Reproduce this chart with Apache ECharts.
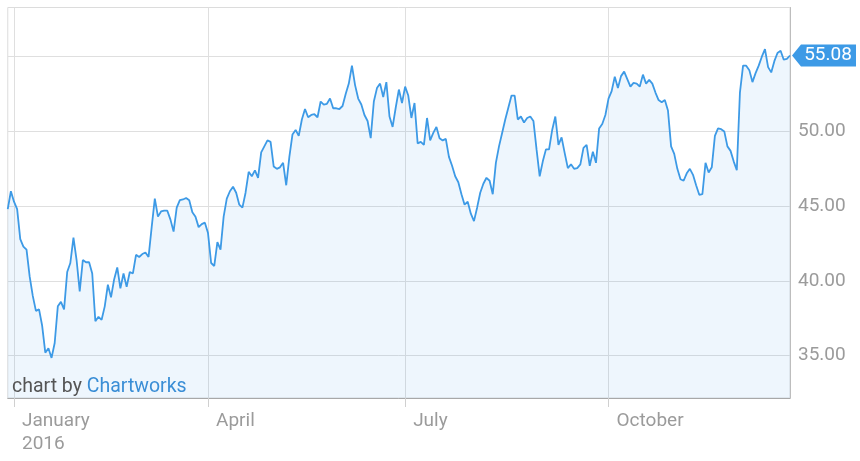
<!DOCTYPE html>
<html><head><meta charset="utf-8">
<script src="https://cdn.jsdelivr.net/npm/echarts@6/dist/echarts.min.js"></script>
<style>html,body{margin:0;padding:0;background:#fff}#c{width:860px;height:461px}</style>
</head><body><div id="c"></div>
<script>
// ---- data ----
const startDate = '2015-12-30';
const endDate = '2016-12-22';
const holidays = ['2016-01-01','2016-03-25','2016-03-28','2016-05-02','2016-05-30','2016-08-29'];
const prices = [
44.8,46.0,45.3,44.8,42.8,42.3,42.1,40.3,39.0,38.0,
38.1,37.0,35.2,35.5,34.85,35.85,38.3,38.6,38.1,40.6,
41.2,42.9,41.4,39.3,41.4,41.25,41.25,40.5,37.3,37.6,
37.4,38.3,39.75,38.9,40.1,40.9,39.5,40.5,39.6,40.6,
40.5,41.75,41.6,41.8,41.9,41.6,43.6,45.5,44.3,44.65,
44.7,44.7,44.1,43.3,44.9,45.4,45.45,45.55,45.4,44.6,
44.3,43.6,43.8,43.9,43.2,41.2,41.0,42.6,42.1,44.3,
45.5,46.0,46.3,45.9,45.1,44.9,45.9,47.3,47.0,47.4,
46.9,48.6,49.0,49.4,49.3,47.65,47.5,47.6,47.9,46.4,
48.3,49.8,50.1,49.7,50.8,51.5,50.95,51.1,51.15,50.95,
52.0,51.8,51.85,52.2,51.55,51.55,51.5,51.7,52.5,53.2,
54.4,53.1,52.2,51.8,51.1,50.7,49.55,52.0,52.9,53.2,
52.3,53.3,51.0,50.3,51.6,52.8,51.9,53.0,52.4,50.9,
51.9,49.2,49.3,49.1,50.9,49.4,49.9,50.3,49.55,49.4,
49.5,48.3,47.7,47.0,46.6,45.8,45.1,45.3,44.5,44.0,
44.9,45.9,46.5,46.9,46.7,45.8,47.9,49.0,49.9,50.8,
51.6,52.4,52.4,50.8,51.0,50.6,50.9,51.0,50.7,48.8,
47.0,48.0,48.8,48.8,50.1,51.0,49.1,49.6,48.55,47.55,
47.8,47.5,47.55,47.8,48.9,49.1,47.7,48.65,47.9,50.2,
50.5,51.1,52.2,52.7,53.66,52.9,53.7,54.0,53.5,53.0,
53.25,53.2,53.0,53.8,53.2,53.45,53.2,52.6,52.1,51.95,
52.1,51.4,49.0,48.5,47.5,46.8,46.7,47.2,47.5,47.1,
46.4,45.76,45.8,47.9,47.25,47.6,49.7,50.2,50.15,50.0,
49.0,48.7,48.0,47.4,52.6,54.4,54.4,54.1,53.3,53.9,
54.4,55.0,55.5,54.3,53.95,54.7,55.25,55.4,54.8,54.85,
55.08
];
const yTicks = [35, 40, 45, 50, 55];
const yMin = 32.17;
const yMax = 58.29;
const quarterLabels = {'2016-01': 'January\n2016', '2016-04': 'April', '2016-07': 'July', '2016-10': 'October'};
const lastPrice = 55.08;
const creditText = ['chart by', 'Chartworks'];

// ---- trading-day categories ----
function tradingDays(from, to, skip) {
  const out = [];
  const d = new Date(from + 'T00:00:00Z');
  const end = new Date(to + 'T00:00:00Z');
  while (d <= end) {
    const s = d.toISOString().slice(0, 10);
    const wd = d.getUTCDay();
    if (wd !== 0 && wd !== 6 && skip.indexOf(s) < 0) out.push(s);
    d.setUTCDate(d.getUTCDate() + 1);
  }
  return out;
}
const dates = tradingDays(startDate, endDate, holidays);
const quarterStart = new Set();
const seen = {};
dates.forEach((s, i) => {
  const m = s.slice(0, 7);
  if (quarterLabels[m] && !seen[m]) { seen[m] = true; quarterStart.add(i); }
});
const isQ = (i) => quarterStart.has(i);

const FONT = 'Roboto';
const chart = echarts.init(document.getElementById('c'), null, {renderer: 'canvas'});
chart.setOption({
  animation: false,
  grid: {left: 7.75, right: 70, top: 7.5, bottom: 63, show: true, borderColor: '#dcdcdc', borderWidth: 1, backgroundColor: 'transparent'},
  xAxis: {
    type: 'category', data: dates, boundaryGap: false,
    axisLine: {show: true, lineStyle: {color: '#a8a8a8', width: 1}},
    axisTick: {show: true, interval: isQ, length: 9, lineStyle: {color: '#d0d0d0'}},
    splitLine: {show: true, interval: isQ, lineStyle: {color: '#dfdfdf', width: 1}},
    axisLabel: {
      show: true, interval: isQ, align: 'left', padding: [0, 0, 0, 8],
      margin: 12, lineHeight: 23, color: '#9b9b9b', fontSize: 19, fontFamily: FONT,
      formatter: (v) => quarterLabels[v.slice(0, 7)] || ''
    }
  },
  yAxis: {
    type: 'value', position: 'right', min: yMin, max: yMax, scale: true,
    axisLine: {show: true, lineStyle: {color: '#bdbdbd'}},
    axisTick: {show: false, customValues: yTicks},
    splitLine: {show: true, lineStyle: {color: '#dfdfdf', width: 1}},
    axisLabel: {show: true, customValues: yTicks, margin: 8, color: '#9b9b9b', fontSize: 19, fontFamily: FONT,
      formatter: (v) => Number(v).toFixed(2)}
  },
  series: [{
    type: 'line', data: prices, symbol: 'none', showSymbol: false,
    lineStyle: {color: '#3d9ae6', width: 1.8},
    itemStyle: {color: '#3d9ae6'},
    areaStyle: {color: 'rgba(61,154,230,0.12)', origin: 'start'},
    markPoint: {
      symbol: 'path://M0,11 L9,0 L64,0 L64,22 L9,22 Z',
      symbolSize: [64, 22], symbolKeepAspect: false, symbolOffset: [34, 0],
      itemStyle: {color: '#3d9ae6'},
      label: {show: true, position: 'inside', color: '#fff', fontSize: 19, fontFamily: FONT, offset: [4, 0],
        formatter: (p) => Number(p.value).toFixed(2)},
      data: [{coord: [dates[dates.length - 1], lastPrice], value: lastPrice}]
    }
  }],
  graphic: [{
    type: 'text', left: 12, top: 377, z: 100,
    style: {
      text: '{a|' + creditText[0] + '} {b|' + creditText[1] + '}',
      font: '19.5px ' + FONT,
      rich: {a: {fill: '#555555', fontSize: 19.5, fontFamily: FONT}, b: {fill: '#3a8ed6', fontSize: 19.5, fontFamily: FONT}}
    }
  }]
});
</script></body></html>
